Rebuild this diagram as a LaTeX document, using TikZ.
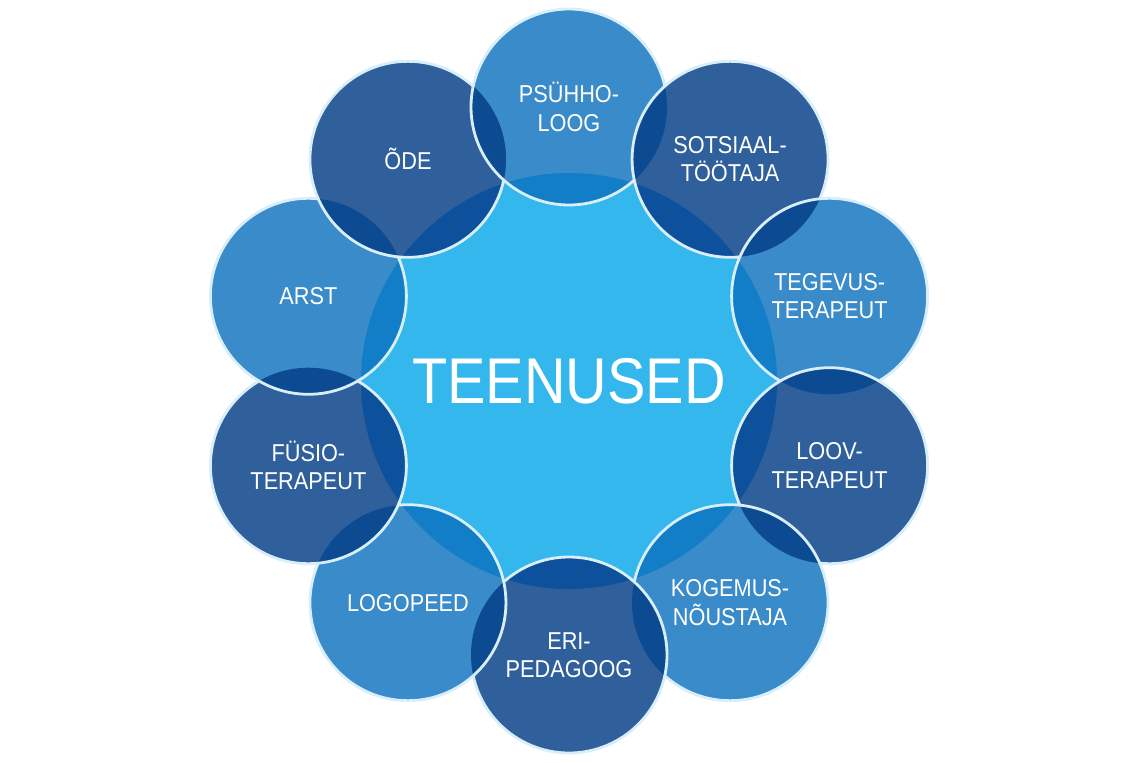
\documentclass[tikz,border=0pt]{standalone}
\usepackage{fontspec}
\setmainfont{Liberation Sans}[FakeStretch=0.89]
\definecolor{centercol}{HTML}{33B7ED}
\definecolor{lightcol}{HTML}{3A8BC9}
\definecolor{darkcol}{HTML}{30609C}
\definecolor{lenslc}{HTML}{117EC7}
\definecolor{lensdc}{HTML}{0D509B}
\definecolor{lensoo}{HTML}{0C4A92}
\definecolor{bordercol}{HTML}{D8EEFA}
\tikzset{
  lbl/.style={text=white, align=center, inner sep=0pt, font=\fontsize{18.3}{21.3}\selectfont},
  mainlbl/.style={text=white, inner sep=0pt, font=\fontsize{48.5}{56}\selectfont},
  ring/.style={draw=bordercol, line width=2.1pt}
}
\begin{document}
\begin{tikzpicture}[x=0.75pt,y=-0.75pt]
\useasboundingbox (0,0) rectangle (1138,763);
\coordinate (C) at (569,381);
\coordinate (o1) at (569,107);
\coordinate (o2) at (730.05,159.33);
\coordinate (o3) at (829.6,296.3);
\coordinate (o4) at (829.6,465.7);
\coordinate (o5) at (730.05,602.67);
\coordinate (o6) at (569,655);
\coordinate (o7) at (407.95,602.67);
\coordinate (o8) at (308.4,465.7);
\coordinate (o9) at (308.4,296.3);
\coordinate (o10) at (407.95,159.33);
% centre
\fill[centercol] (C) circle[radius=208];
% outer fills
\foreach \i/\col in {1/lightcol,2/darkcol,3/lightcol,4/darkcol,5/lightcol,6/darkcol,7/lightcol,8/darkcol,9/lightcol,10/darkcol}
  \fill[\col] (o\i) circle[radius=98];
% lenses with centre
\foreach \i/\col in {1/lenslc,2/lensdc,3/lenslc,4/lensdc,5/lenslc,6/lensdc,7/lenslc,8/lensdc,9/lenslc,10/lensdc}{
  \begin{scope}
    \clip (o\i) circle[radius=98];
    \fill[\col] (C) circle[radius=208];
  \end{scope}
}
% lenses between neighbours
\foreach \i/\j in {1/2,2/3,3/4,4/5,5/6,6/7,7/8,8/9,9/10,10/1}{
  \begin{scope}
    \clip (o\i) circle[radius=98];
    \fill[lensoo] (o\j) circle[radius=98];
  \end{scope}
}
% borders: each circle lies under its clockwise neighbour
\foreach \i/\j in {1/2,2/3,3/4,4/5,5/6,6/7,7/8,8/9,9/10,10/1}{
  \begin{scope}[even odd rule]
    \clip (-20,-20) rectangle (1160,790) (o\j) circle[radius=98];
    \draw[ring] (o\i) circle[radius=98];
  \end{scope}
}
% labels
\node[mainlbl] (tc) at (C) {TEENUSED};
\node[lbl] (t1) at (o1) {PSÜHHO-\\LOOG};
\node[lbl] (t2) at (o2) {SOTSIAAL-\\TÖÖTAJA};
\node[lbl] (t3) at (o3) {TEGEVUS-\\TERAPEUT};
\node[lbl] (t4) at (o4) {LOOV-\\TERAPEUT};
\node[lbl] (t5) at (o5) {KOGEMUS-\\NÕUSTAJA};
\node[lbl] (t6) at (o6) {ERI-\\PEDAGOOG};
\node[lbl] (t7) at (o7) {LOGOPEED};
\node[lbl] (t8) at (o8) {FÜSIO-\\TERAPEUT};
\node[lbl] (t9) at (o9) {ARST};
\node[lbl] (t10) at (o10) {ÕDE};
\end{tikzpicture}
\end{document}
